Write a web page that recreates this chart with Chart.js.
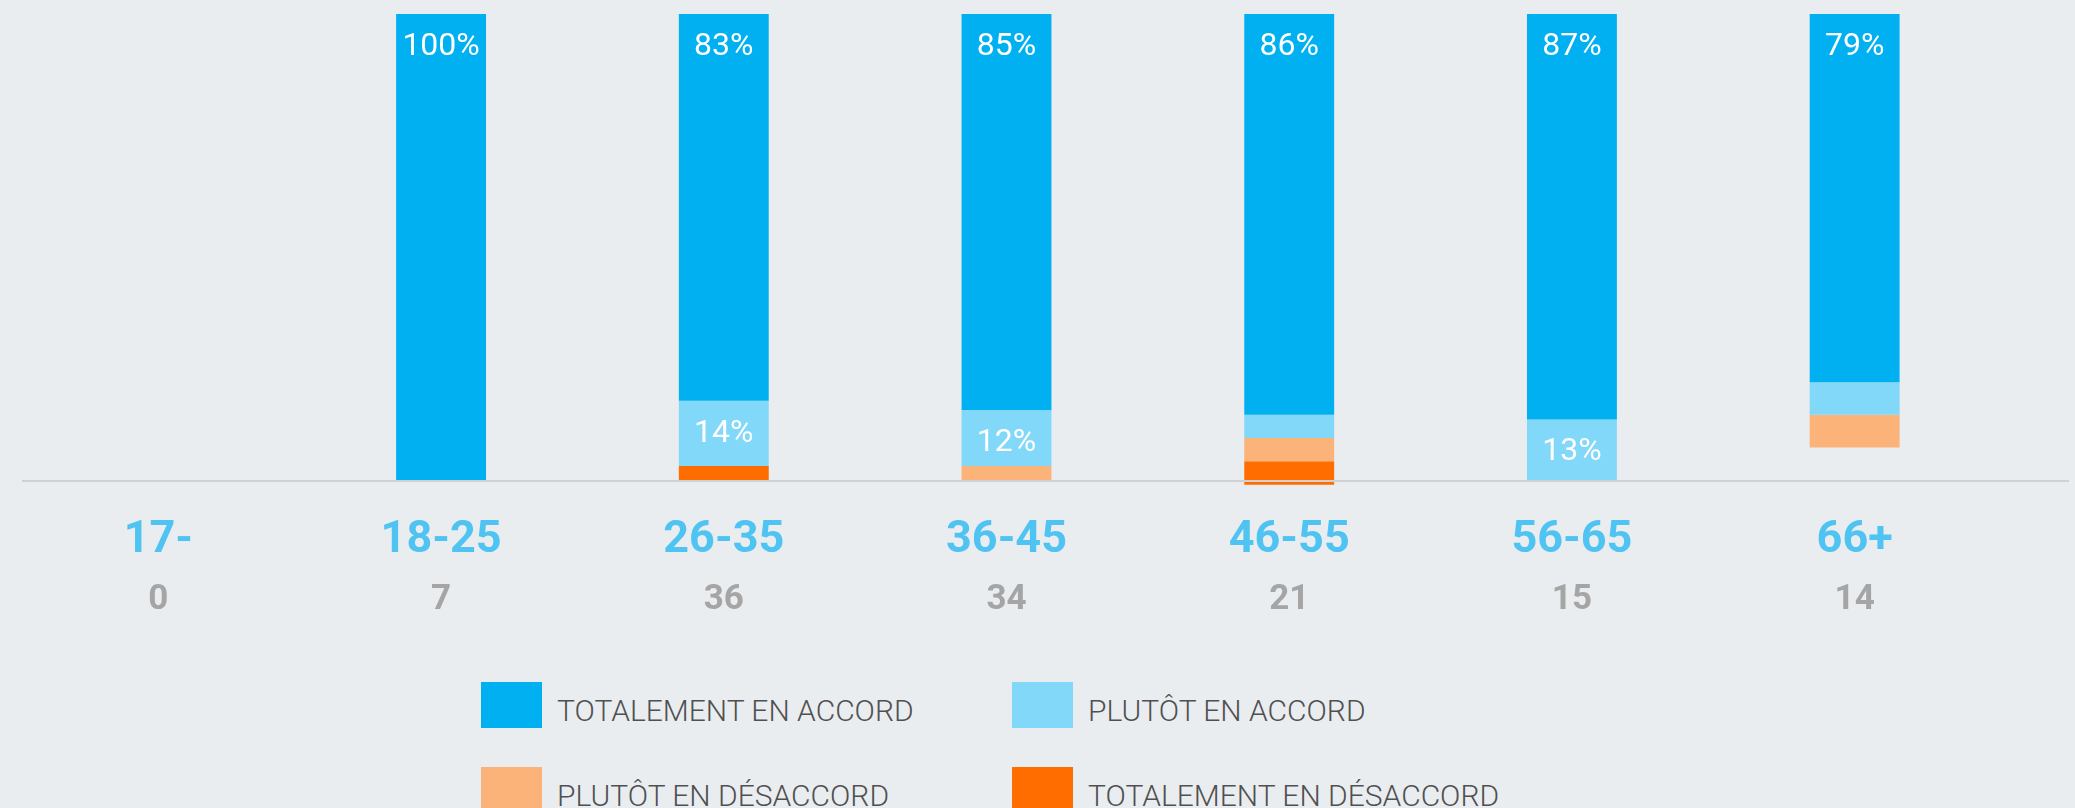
<!DOCTYPE html>
<html lang="fr">
<head>
<meta charset="utf-8">
<title>Accord par tranche d'âge</title>
<script src="https://cdn.jsdelivr.net/npm/chart.js@4.4.1/dist/chart.umd.min.js"></script>
<style>
  html, body { margin: 0; padding: 0; background: #eaedf0; }
  #wrap { position: relative; width: 2075px; height: 808px; overflow: hidden; }
  #chartBox { position: absolute; left: 0; top: 0; width: 2075px; height: 640px; }
  #legend {
    position: absolute; left: 481px; top: 682px;
    display: grid; grid-template-columns: 531px 531px; row-gap: 39px;
    font-family: Roboto, "Noto Sans", sans-serif; font-weight: 300; font-size: 30px; color: #505050;
  }
  .item { display: flex; align-items: center; height: 46px; }
  .swatch { width: 61px; height: 46px; margin-right: 15px; flex: none; }
  .item span { position: relative; top: 5px; white-space: nowrap; }
</style>
</head>
<body>
<div id="wrap">
  <div id="chartBox"><canvas id="chart"></canvas></div>
  <div id="legend"></div>
</div>
<script>
var ageGroups = ["17-", "18-25", "26-35", "36-45", "46-55", "56-65", "66+"];
var respondents = ["0", "7", "36", "34", "21", "15", "14"];

// pourcentages arrondis, empilés depuis le haut
var totalementAccord = [0, 100, 83, 85, 86, 87, 79];
var plutotAccord = [0, 0, 14, 12, 5, 13, 7];
var plutotDesaccord = [0, 0, 0, 3, 5, 0, 7];
var totalementDesaccord = [0, 0, 3, 0, 5, 0, 0];

var seriesNames = ["TOTALEMENT EN ACCORD", "PLUTÔT EN ACCORD", "PLUTÔT EN DÉSACCORD", "TOTALEMENT EN DÉSACCORD"];

function makeDataset(label, data, color) {
    return {
        label: label,
        data: data,
        backgroundColor: color,
        borderWidth: 0,
        barPercentage: 0.318,
        categoryPercentage: 1,
        clip: false,
    };
}

// barre de base + libellés en % dans les segments
var segmentLabels = {
    id: "segmentLabels",
    afterDatasetsDraw: function (chart) {
        var ctx = chart.ctx;
        var area = chart.chartArea;
        var base = chart.scales.y.getPixelForValue(100);
        ctx.save();
        ctx.strokeStyle = "#cfd1d3";
        ctx.lineWidth = 2;
        ctx.beginPath();
        ctx.moveTo(area.left + 5, base + 1);
        ctx.lineTo(chart.width - 6, base + 1);
        ctx.stroke();

        ctx.fillStyle = "#ffffff";
        ctx.font = "400 32px Roboto";
        ctx.textAlign = "center";
        ctx.textBaseline = "alphabetic";
        chart.data.datasets.forEach(function (ds, i) {
            chart.getDatasetMeta(i).data.forEach(function (bar, j) {
                var v = ds.data[j];
                if (v < 10) return;
                var top = Math.min(bar.y, bar.base);
                ctx.fillText(v + "%", bar.x, top + 41);
            });
        });
        ctx.restore();
    },
};

var chart = new Chart(document.getElementById("chart"), {
    type: "bar",
    data: {
        labels: ageGroups,
        datasets: [
            makeDataset(seriesNames[0], totalementAccord, "#00b0f0"),
            makeDataset(seriesNames[1], plutotAccord, "#82d8f8"),
            makeDataset(seriesNames[2], plutotDesaccord, "#fcb37a"),
            makeDataset(seriesNames[3], totalementDesaccord, "#ff6c00"),
        ],
    },
    options: {
        animation: false,
        responsive: true,
        maintainAspectRatio: false,
        layout: {
            padding: { top: 14, left: 17, right: 79, bottom: 14 },
        },
        plugins: {
            legend: { display: false },
            tooltip: { enabled: false },
        },
        scales: {
            x: {
                stacked: true,
                grid: { display: false, drawTicks: false },
                border: { display: false },
                ticks: {
                    color: "#4fc3f1",
                    font: { family: "Roboto", size: 45, weight: "bold", lineHeight: 1.2 },
                    padding: 34,
                    autoSkip: false,
                    maxRotation: 0,
                },
                // hauteur fixe pour rapprocher la ligne des effectifs
                afterFit: function (scale) {
                    scale.height = 86;
                },
            },
            x2: {
                type: "category",
                labels: respondents,
                position: "bottom",
                offset: true,
                grid: { display: false, drawTicks: false },
                border: { display: false },
                ticks: {
                    color: "#a5a5a5",
                    font: { family: "Roboto", size: 35, weight: "bold", lineHeight: 1.2 },
                    padding: 13,
                    autoSkip: false,
                    maxRotation: 0,
                },
                afterFit: function (scale) {
                    scale.height = 60;
                },
            },
            y: {
                display: false,
                stacked: true,
                reverse: true,
                min: 0,
                max: 100,
            },
        },
    },
    plugins: [segmentLabels],
});

// légende en 2 colonnes
var legend = document.getElementById("legend");
chart.data.datasets.forEach(function (ds) {
    var item = document.createElement("div");
    item.className = "item";
    var sw = document.createElement("div");
    sw.className = "swatch";
    sw.style.background = ds.backgroundColor;
    var txt = document.createElement("span");
    txt.textContent = ds.label;
    item.appendChild(sw);
    item.appendChild(txt);
    legend.appendChild(item);
});
</script>
</body>
</html>
